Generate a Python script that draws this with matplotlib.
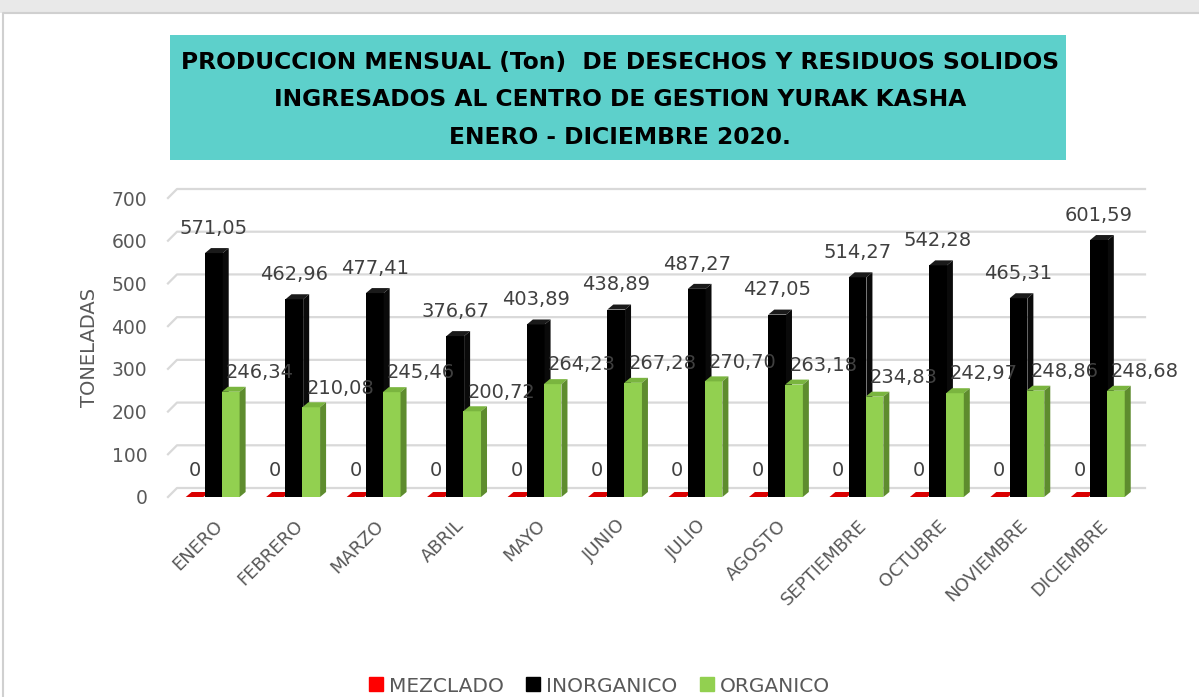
import numpy as np
import matplotlib.pyplot as plt
from matplotlib.patches import Polygon, Rectangle
from matplotlib.lines import Line2D

meses = ['ENERO', 'FEBRERO', 'MARZO', 'ABRIL', 'MAYO', 'JUNIO', 'JULIO',
         'AGOSTO', 'SEPTIEMBRE', 'OCTUBRE', 'NOVIEMBRE', 'DICIEMBRE']
mezclado = [0, 0, 0, 0, 0, 0, 0, 0, 0, 0, 0, 0]
inorganico = [571.05, 462.96, 477.41, 376.67, 403.89, 438.89, 487.27,
              427.05, 514.27, 542.28, 465.31, 601.59]
organico = [246.34, 210.08, 245.46, 200.72, 264.23, 267.28, 270.70,
            263.18, 234.83, 242.97, 248.86, 248.68]
series = ['MEZCLADO', 'INORGANICO', 'ORGANICO']
yticks = [0, 100, 200, 300, 400, 500, 600, 700]

W, H = 1199, 697
fig = plt.figure(figsize=(W / 100, H / 100), dpi=100)
fig.patch.set_facecolor('white')

# fondo tipo diapositiva
fig.patches.append(Rectangle((0, 1 - 13 / H), 1, 13 / H, transform=fig.transFigure,
                             facecolor='#e9e9e9', edgecolor='none', zorder=0))
fig.lines.append(Line2D([3 / W, 3 / W, 1], [0, 1 - 13 / H, 1 - 13 / H],
                        transform=fig.transFigure, color='#d0d0d0', lw=1.5))

# caja del titulo
fig.patches.append(Rectangle((170 / W, 1 - 160 / H), 896 / W, 125 / H,
                             transform=fig.transFigure, facecolor='#5dd0cb',
                             edgecolor='none', zorder=1))
titulo = ['PRODUCCION MENSUAL (Ton)  DE DESECHOS Y RESIDUOS SOLIDOS',
          'INGRESADOS AL CENTRO DE GESTION YURAK KASHA',
          'ENERO - DICIEMBRE 2020.']
for k, linea in enumerate(titulo):
    fig.text(620 / W, 1 - (62 + 38 * k) / H, linea, ha='center', va='center',
             fontsize=16.8, fontweight='bold', color='black', zorder=2)

ax = fig.add_axes([168 / W, 1 - 497 / H, 968 / W, 299 / H])
ax.set_xlim(-0.57, 11.46)
ax.set_ylim(0, 700)
for s in ax.spines.values():
    s.set_visible(False)

# conversion pixeles -> unidades de datos
px_x = (11.46 + 0.57) / 968
px_y = 700 / 299

# lineas de cuadricula en la pared del fondo
gdx, gdy = 9 * px_x, 9 * px_y
for v in yticks:
    ax.plot([-0.57, -0.57 + gdx, 11.46 + gdx], [v, v + gdy, v + gdy],
            color='#d9d9d9', lw=1.6, clip_on=False, zorder=0)

ax.set_yticks(yticks)
ax.set_xticks(range(len(meses)))
ax.set_xticklabels(meses, rotation=45, ha='right', va='top',
                   rotation_mode='anchor', fontsize=13, color='#595959')
ax.tick_params(axis='both', length=0)
ax.tick_params(axis='x', pad=14)
ax.tick_params(axis='y', pad=15, labelsize=13.5, labelcolor='#595959')
ax.set_ylabel('TONELADAS', fontsize=14, color='#595959', labelpad=9)

bw = 0.22
ddx, ddy = 6 * px_x, 5 * px_y
estilos = [
    (mezclado, -0.24, '#ff0000', '#d90000', '#b30000'),
    (inorganico, 0.0, '#000000', '#1a1a1a', '#0a0a0a'),
    (organico, 0.21, '#92d050', '#7ab53f', '#5e8c2e'),
]

for k, (vals, off, c_front, c_top, c_side) in enumerate(estilos):
    x = np.arange(len(vals)) + off
    ax.bar(x, vals, width=bw, color=c_front, zorder=3 + 2 * k, clip_on=False)
    for xi, v in zip(x, vals):
        x0, x1 = xi - bw / 2, xi + bw / 2
        ax.add_patch(Polygon([(x0, v), (x1, v), (x1 + ddx, v + ddy), (x0 + ddx, v + ddy)],
                             closed=True, facecolor=c_top, edgecolor='none',
                             zorder=4 + 2 * k, clip_on=False))
        if v > 0:
            ax.add_patch(Polygon([(x1, 0), (x1 + ddx, ddy), (x1 + ddx, v + ddy), (x1, v)],
                                 closed=True, facecolor=c_side, edgecolor='none',
                                 zorder=4 + 2 * k, clip_on=False))

def fmt(v):
    return '0' if v == 0 else f'{v:.2f}'.replace('.', ',')

for i in range(len(meses)):
    ax.annotate(fmt(mezclado[i]), (i - 0.24, mezclado[i]), xytext=(0, 12),
                textcoords='offset points', ha='center', va='bottom',
                fontsize=14, color='#404040', zorder=20)
    ax.annotate(fmt(inorganico[i]), (i, inorganico[i]), xytext=(0, 11),
                textcoords='offset points', ha='center', va='bottom',
                fontsize=14, color='#404040', zorder=20)
    ax.annotate(fmt(organico[i]), (i + 0.21, organico[i]), xytext=(21, 7),
                textcoords='offset points', ha='center', va='bottom',
                fontsize=14, color='#404040', zorder=20)

handles = [Line2D([], [], marker='s', ls='none', markersize=9.5, color=c)
           for c in ['#ff0000', '#000000', '#92d050']]
fig.legend(handles, series, loc='center', bbox_to_anchor=(0.5, 1 - 686 / H),
           ncol=3, frameon=False, fontsize=14.5, handlelength=0.7,
           handletextpad=0.3, columnspacing=1.1, labelcolor='#595959')

fig.savefig('out.png', dpi=100)
